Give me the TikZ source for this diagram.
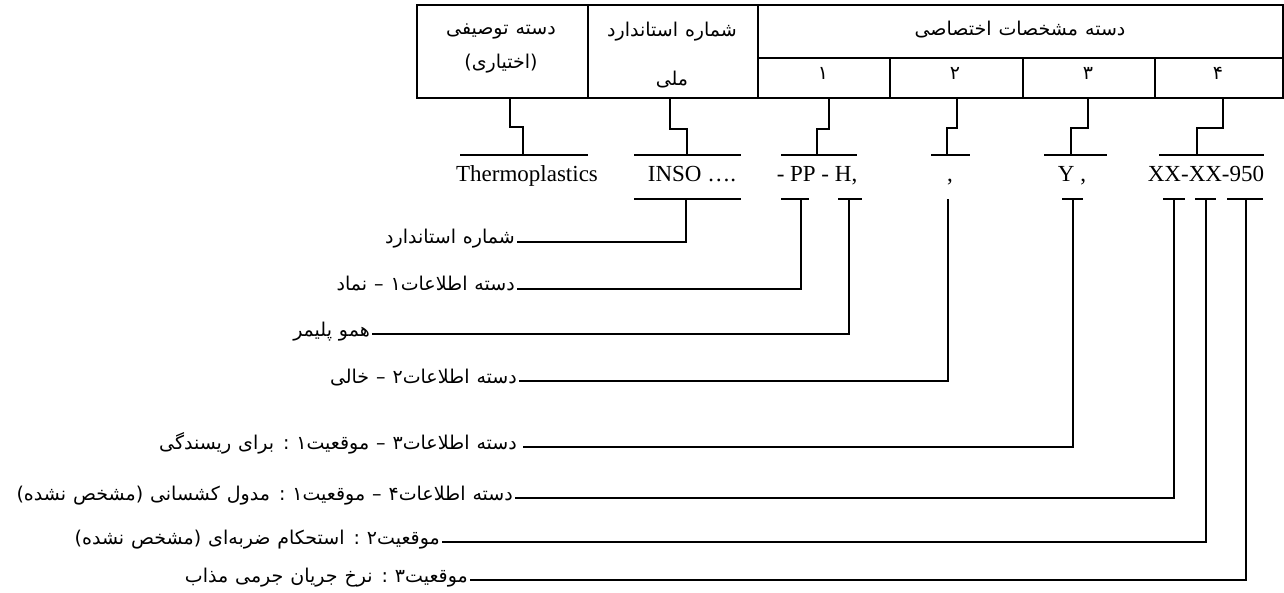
\documentclass[tikz,border=0pt]{standalone}
\usepackage{fontspec}
\setmainfont{Liberation Serif}
\newfontfamily\fafont[Script=Arabic, WordSpace=1.15]{DejaVu Sans}
\TeXXeTstate=1
\usetikzlibrary{calc}
\newcommand{\fa}[1]{{\fafont\beginR #1\endR}}
\begin{document}
\begin{tikzpicture}[x=1pt,y=-1pt,
  ln/.style={line width=1.6pt},
  cell/.style={draw, line width=1.8pt, inner sep=0pt, anchor=north west},
  lat/.style={font=\fontsize{23}{26}\selectfont, inner sep=0pt, anchor=base},
  fal/.style={font=\fontsize{19}{22}\selectfont, inner sep=0pt},
  lab/.style={fal, anchor=base east, inner xsep=2pt},
  lead/.style={ln}]
\useasboundingbox (0,0) rectangle (1284,593);
% table
\node[cell, minimum width=171pt, minimum height=93pt] (c1) at (416,4) {};
\node[cell, minimum width=170pt, minimum height=93pt] (c2) at (587,4) {};
\node[cell, minimum width=525pt, minimum height=53pt] (hd) at (757,4) {};
\node[cell, minimum width=132pt, minimum height=40pt] (s1) at (757,57) {};
\node[cell, minimum width=133pt, minimum height=40pt] (s2) at (889,57) {};
\node[cell, minimum width=132pt, minimum height=40pt] (s3) at (1022,57) {};
\node[cell, minimum width=128pt, minimum height=40pt] (s4) at (1154,57) {};
\node[fal] (c1a) at (501,31) {\fa{دسته توصیفی}};
\node[fal] (c1b) at (501,64) {\fa{(اختیاری)}};
\node[fal] (c2a) at (672,32) {\fa{شماره استاندارد}};
\node[fal] (c2b) at (672,80) {\fa{ملی}};
\node[fal] (hdt) at (1020,30) {\fa{دسته مشخصات اختصاصی}};
\node[fal] (n1) at (823,73) {\fa{۱}};
\node[fal] (n2) at (955,73) {\fa{۲}};
\node[fal] (n3) at (1088,73) {\fa{۳}};
\node[fal] (n4) at (1218,73) {\fa{۴}};
% code row
\node[lat] (t1) at (527,182) {Thermoplastics};
\node[lat] (t2) at (692,182) {INSO ….};
\node[lat] (t3) at (817,182) {- PP - H,};
\node[lat] (t4) at (950,182) {,};
\node[lat] (t5) at (1072,182) {Y ,};
\node[lat] (t6) at (1206,182) {XX-XX-950};
% top bars
\draw[ln] (460,155) -- (588,155);
\draw[ln] (634,155) -- (741,155);
\draw[ln] (781,155) -- (857,155);
\draw[ln] (931,155) -- (970,155);
\draw[ln] (1044,155) -- (1107,155);
\draw[ln] (1159,155) -- (1264,155);
\coordinate (b1) at (523,155);
\coordinate (b2) at (687,155);
\coordinate (b3) at (817,155);
\coordinate (b4) at (947,155);
\coordinate (b5) at (1071,155);
\coordinate (b6) at (1197,155);
% step connectors from table
\draw[ln] ($(c1.south)+(7.5,0)$) -- ++(0,28) -| (b1);
\draw[ln] ($(c2.south)+(-3,0)$) -- ++(0,30) -| (b2);
\draw[ln] ($(s1.south)+(5,0)$) -- ++(0,30) -| (b3);
\draw[ln] ($(s2.south)+(0.5,0)$) -- ++(0,29) -| (b4);
\draw[ln] ($(s3.south)+(-1,0)$) -- ++(0,29) -| (b5);
\draw[ln] ($(s4.south)+(4,0)$) -- ++(0,29) -| (b6);
% bottom bars
\draw[ln] (634,199) -- (741,199);
\draw[ln] (781,199) -- (809,199);
\draw[ln] (838,199) -- (862,199);
\draw[ln] (1062,199) -- (1083,199);
\draw[ln] (1163,199) -- (1185,199);
\draw[ln] (1195,199) -- (1216,199);
\draw[ln] (1227,199) -- (1263,199);
\coordinate (p1) at (686,199);
\coordinate (p2) at (801,199);
\coordinate (p3) at (849,199);
\coordinate (p4) at (948,199);
\coordinate (p5) at (1073,199);
\coordinate (p6) at (1174,199);
\coordinate (p7) at (1206,199);
\coordinate (p8) at (1246,199);
% labels
\node[lab] (r1) at (517,244) {\fa{شماره استاندارد}};
\node[lab] (r2) at (517,291) {\fa{دسته اطلاعات۱ – نماد}};
\node[lab] (r3) at (372,336) {\fa{همو پلیمر}};
\node[lab] (r4) at (519,383) {\fa{دسته اطلاعات۲ – خالی}};
\node[lab, inner xsep=6pt] (r5) at (523,449) {\fa{دسته اطلاعات۳ – موقعیت۱ : برای ریسندگی}};
\node[lab] (r6) at (515,500) {\fa{دسته اطلاعات۴ – موقعیت۱ : مدول کشسانی (مشخص نشده)}};
\node[lab] (r7) at (442,544) {\fa{موقعیت۲ : استحکام ضربه‌ای (مشخص نشده)}};
\node[lab] (r8) at (470,582) {\fa{موقعیت۳ : نرخ جریان جرمی مذاب}};
\draw[lead] ([yshift=2pt]r1.base east) -| (p1);
\draw[lead] ([yshift=2pt]r2.base east) -| (p2);
\draw[lead] ([yshift=2pt]r3.base east) -| (p3);
\draw[lead] ([yshift=2pt]r4.base east) -| (p4);
\draw[lead] ([yshift=2pt]r5.base east) -| (p5);
\draw[lead] ([yshift=2pt]r6.base east) -| (p6);
\draw[lead] ([yshift=2pt]r7.base east) -| (p7);
\draw[lead] ([yshift=2pt]r8.base east) -| (p8);
\end{tikzpicture}
\end{document}
